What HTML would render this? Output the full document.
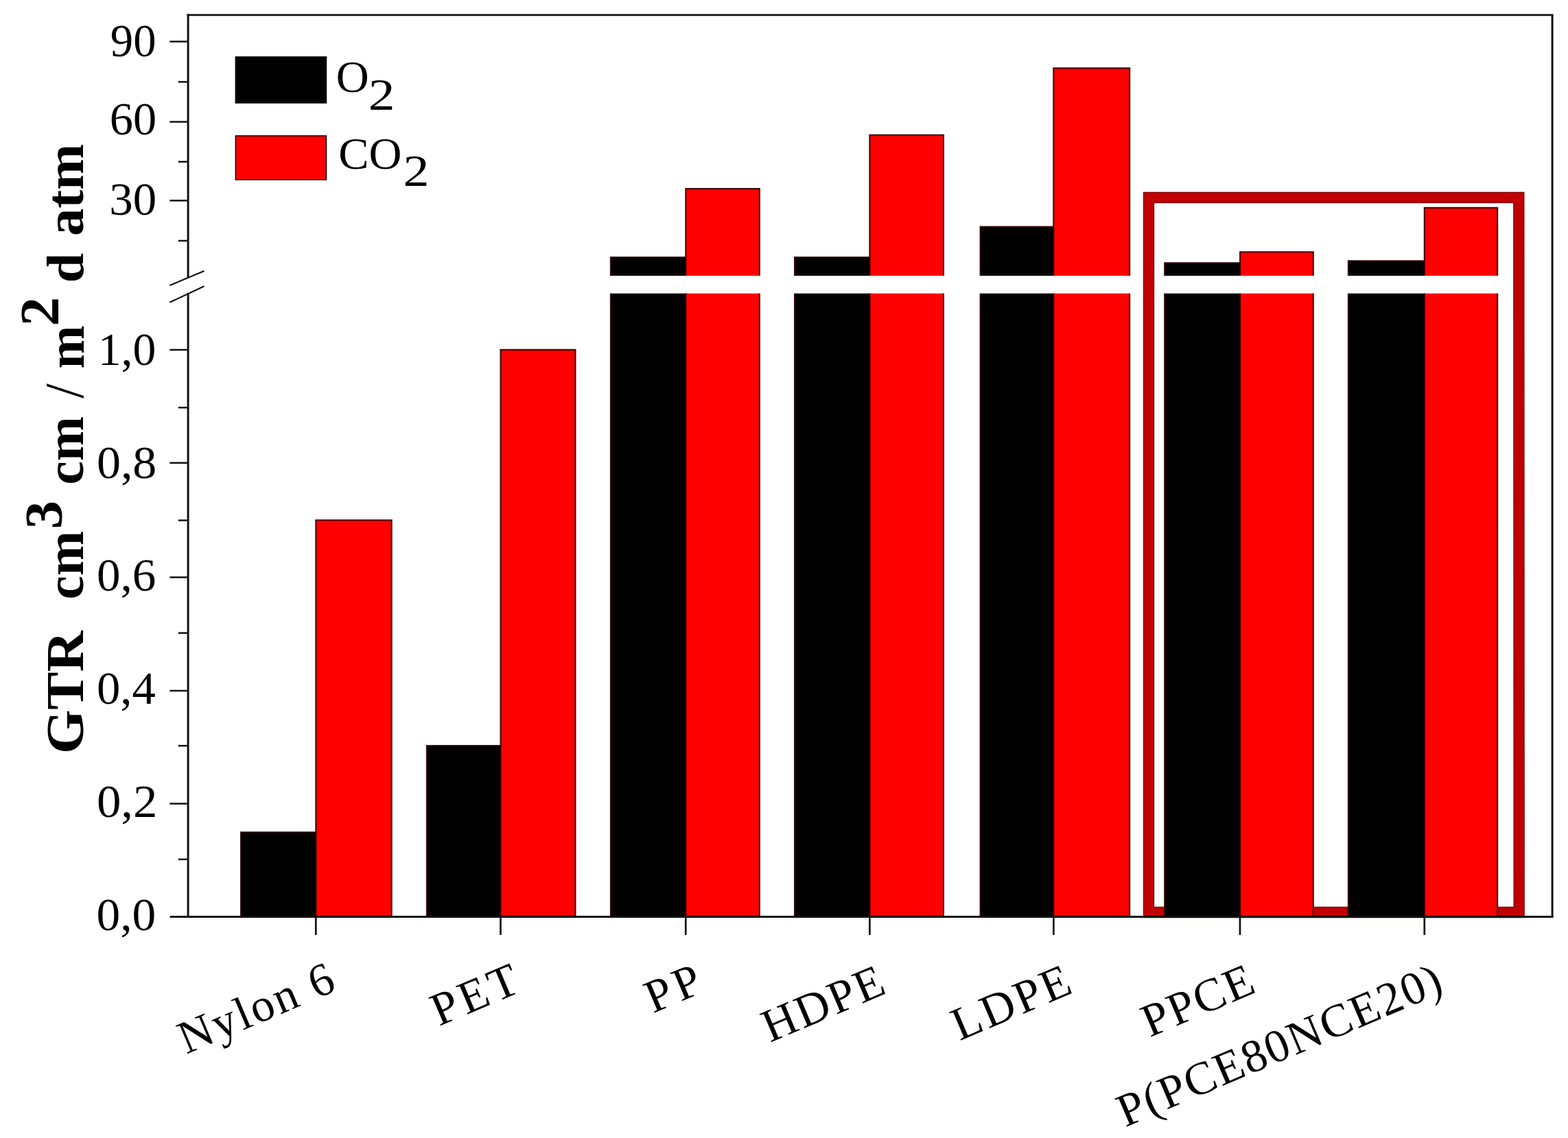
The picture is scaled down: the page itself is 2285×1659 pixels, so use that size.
<!DOCTYPE html>
<html lang="en"><head><meta charset="utf-8"><title>GTR bar chart</title>
<style>html,body{margin:0;padding:0;background:#fff;}body{width:2285px;height:1659px;overflow:hidden;}svg{display:block;filter:blur(0.5px);}text{font-family:"Liberation Serif",serif;fill:#000;}</style></head><body>
<svg width="2285" height="1659" viewBox="0 0 2285 1659">
<rect x="0" y="0" width="2285" height="1659" fill="#ffffff"/>
<path d="M1674.0 1330 L1674.0 288.0 L2213.3 288.0 L2213.7 1330 Z" fill="none" stroke="#7e0a0a" stroke-width="16.4" stroke-linejoin="miter"/><path d="M1674.0 1330 L1674.0 288.0 L2213.3 288.0 L2213.7 1330 Z" fill="none" stroke="#c00003" stroke-width="13.6" stroke-linejoin="miter"/>
<rect x="351.0" y="1213.3" width="109.3" height="123.2" fill="#000000"/><path d="M351.0 1336.5 L351.0 1213.3 L460.3 1213.3 L460.3 1336.5" fill="none" stroke="#2a0000" stroke-width="2.1" stroke-linecap="butt" stroke-linejoin="miter" opacity="0.9"/>
<rect x="460.3" y="758.3" width="110.4" height="578.2" fill="#fe0000"/><path d="M460.3 1336.5 L460.3 758.3 L570.7 758.3 L570.7 1336.5" fill="none" stroke="#2a0000" stroke-width="2.1" stroke-linecap="butt" stroke-linejoin="miter" opacity="0.9"/>
<rect x="621.9" y="1087.0" width="107.6" height="249.5" fill="#000000"/><path d="M621.9 1336.5 L621.9 1087.0 L729.5 1087.0 L729.5 1336.5" fill="none" stroke="#2a0000" stroke-width="2.1" stroke-linecap="butt" stroke-linejoin="miter" opacity="0.9"/>
<rect x="729.5" y="509.9" width="109.0" height="826.6" fill="#fe0000"/><path d="M729.5 1336.5 L729.5 509.9 L838.5 509.9 L838.5 1336.5" fill="none" stroke="#2a0000" stroke-width="2.1" stroke-linecap="butt" stroke-linejoin="miter" opacity="0.9"/>
<rect x="889.9" y="375.0" width="109.4" height="27.0" fill="#000000"/><path d="M889.9 402.0 L889.9 375.0 L999.3 375.0 L999.3 402.0" fill="none" stroke="#2a0000" stroke-width="2.1" stroke-linecap="butt" stroke-linejoin="miter" opacity="0.9"/><rect x="889.9" y="427.8" width="109.4" height="908.7" fill="#000000"/><path d="M889.9 1336.5 L889.9 427.8 M999.3 427.8 L999.3 1336.5" fill="none" stroke="#2a0000" stroke-width="2.1" stroke-linecap="butt" stroke-linejoin="miter" opacity="0.9"/>
<rect x="999.3" y="275.1" width="107.6" height="126.9" fill="#fe0000"/><path d="M999.3 402.0 L999.3 275.1 L1106.9 275.1 L1106.9 402.0" fill="none" stroke="#2a0000" stroke-width="2.1" stroke-linecap="butt" stroke-linejoin="miter" opacity="0.9"/><rect x="999.3" y="427.8" width="107.6" height="908.7" fill="#fe0000"/><path d="M999.3 1336.5 L999.3 427.8 M1106.9 427.8 L1106.9 1336.5" fill="none" stroke="#2a0000" stroke-width="2.1" stroke-linecap="butt" stroke-linejoin="miter" opacity="0.9"/>
<rect x="1158.0" y="375.0" width="109.4" height="27.0" fill="#000000"/><path d="M1158.0 402.0 L1158.0 375.0 L1267.4 375.0 L1267.4 402.0" fill="none" stroke="#2a0000" stroke-width="2.1" stroke-linecap="butt" stroke-linejoin="miter" opacity="0.9"/><rect x="1158.0" y="427.8" width="109.4" height="908.7" fill="#000000"/><path d="M1158.0 1336.5 L1158.0 427.8 M1267.4 427.8 L1267.4 1336.5" fill="none" stroke="#2a0000" stroke-width="2.1" stroke-linecap="butt" stroke-linejoin="miter" opacity="0.9"/>
<rect x="1267.4" y="196.8" width="107.6" height="205.2" fill="#fe0000"/><path d="M1267.4 402.0 L1267.4 196.8 L1375.0 196.8 L1375.0 402.0" fill="none" stroke="#2a0000" stroke-width="2.1" stroke-linecap="butt" stroke-linejoin="miter" opacity="0.9"/><rect x="1267.4" y="427.8" width="107.6" height="908.7" fill="#fe0000"/><path d="M1267.4 1336.5 L1267.4 427.8 M1375.0 427.8 L1375.0 1336.5" fill="none" stroke="#2a0000" stroke-width="2.1" stroke-linecap="butt" stroke-linejoin="miter" opacity="0.9"/>
<rect x="1428.6" y="330.5" width="106.7" height="71.5" fill="#000000"/><path d="M1428.6 402.0 L1428.6 330.5 L1535.3 330.5 L1535.3 402.0" fill="none" stroke="#2a0000" stroke-width="2.1" stroke-linecap="butt" stroke-linejoin="miter" opacity="0.9"/><rect x="1428.6" y="427.8" width="106.7" height="908.7" fill="#000000"/><path d="M1428.6 1336.5 L1428.6 427.8 M1535.3 427.8 L1535.3 1336.5" fill="none" stroke="#2a0000" stroke-width="2.1" stroke-linecap="butt" stroke-linejoin="miter" opacity="0.9"/>
<rect x="1535.3" y="99.4" width="110.9" height="302.6" fill="#fe0000"/><path d="M1535.3 402.0 L1535.3 99.4 L1646.2 99.4 L1646.2 402.0" fill="none" stroke="#2a0000" stroke-width="2.1" stroke-linecap="butt" stroke-linejoin="miter" opacity="0.9"/><rect x="1535.3" y="427.8" width="110.9" height="908.7" fill="#fe0000"/><path d="M1535.3 1336.5 L1535.3 427.8 M1646.2 427.8 L1646.2 1336.5" fill="none" stroke="#2a0000" stroke-width="2.1" stroke-linecap="butt" stroke-linejoin="miter" opacity="0.9"/>
<rect x="1697.2" y="383.2" width="109.9" height="18.8" fill="#000000"/><path d="M1697.2 402.0 L1697.2 383.2 L1807.1 383.2 L1807.1 402.0" fill="none" stroke="#2a0000" stroke-width="2.1" stroke-linecap="butt" stroke-linejoin="miter" opacity="0.9"/><rect x="1697.2" y="427.8" width="109.9" height="908.7" fill="#000000"/><path d="M1697.2 1336.5 L1697.2 427.8 M1807.1 427.8 L1807.1 1336.5" fill="none" stroke="#2a0000" stroke-width="2.1" stroke-linecap="butt" stroke-linejoin="miter" opacity="0.9"/>
<rect x="1807.1" y="367.3" width="106.7" height="34.7" fill="#fe0000"/><path d="M1807.1 402.0 L1807.1 367.3 L1913.8 367.3 L1913.8 402.0" fill="none" stroke="#2a0000" stroke-width="2.1" stroke-linecap="butt" stroke-linejoin="miter" opacity="0.9"/><rect x="1807.1" y="427.8" width="106.7" height="908.7" fill="#fe0000"/><path d="M1807.1 1336.5 L1807.1 427.8 M1913.8 427.8 L1913.8 1336.5" fill="none" stroke="#2a0000" stroke-width="2.1" stroke-linecap="butt" stroke-linejoin="miter" opacity="0.9"/>
<rect x="1964.9" y="380.3" width="110.9" height="21.7" fill="#000000"/><path d="M1964.9 402.0 L1964.9 380.3 L2075.8 380.3 L2075.8 402.0" fill="none" stroke="#2a0000" stroke-width="2.1" stroke-linecap="butt" stroke-linejoin="miter" opacity="0.9"/><rect x="1964.9" y="427.8" width="110.9" height="908.7" fill="#000000"/><path d="M1964.9 1336.5 L1964.9 427.8 M2075.8 427.8 L2075.8 1336.5" fill="none" stroke="#2a0000" stroke-width="2.1" stroke-linecap="butt" stroke-linejoin="miter" opacity="0.9"/>
<rect x="2075.8" y="302.9" width="106.4" height="99.1" fill="#fe0000"/><path d="M2075.8 402.0 L2075.8 302.9 L2182.2 302.9 L2182.2 402.0" fill="none" stroke="#2a0000" stroke-width="2.1" stroke-linecap="butt" stroke-linejoin="miter" opacity="0.9"/><rect x="2075.8" y="427.8" width="106.4" height="908.7" fill="#fe0000"/><path d="M2075.8 1336.5 L2075.8 427.8 M2182.2 427.8 L2182.2 1336.5" fill="none" stroke="#2a0000" stroke-width="2.1" stroke-linecap="butt" stroke-linejoin="miter" opacity="0.9"/>
<g stroke="#111" stroke-width="3.0" fill="none" stroke-linecap="butt"><path d="M274.1 404.5 L274.1 20.6"/><path d="M274.1 1336.5 L274.1 427.0"/><path d="M272.6 21.9 L2263.6 21.9" stroke-width="2.6"/><path d="M2262.1 21.9 L2262.1 1336.5"/><path d="M247.6 1336.5 L2263.6 1336.5" stroke-width="2.8"/><path d="M247.4 60.6 L274.1 60.6" stroke-width="2.5"/><path d="M247.4 177.6 L274.1 177.6" stroke-width="2.5"/><path d="M247.4 292.4 L274.1 292.4" stroke-width="2.5"/><path d="M247.4 510.0 L274.1 510.0" stroke-width="2.5"/><path d="M247.4 674.8 L274.1 674.8" stroke-width="2.5"/><path d="M247.4 841.6 L274.1 841.6" stroke-width="2.5"/><path d="M247.4 1007.0 L274.1 1007.0" stroke-width="2.5"/><path d="M247.4 1171.6 L274.1 1171.6" stroke-width="2.5"/><path d="M259.8 119.4 L274.1 119.4" stroke-width="2.5"/><path d="M259.8 235.8 L274.1 235.8" stroke-width="2.5"/><path d="M259.8 351.0 L274.1 351.0" stroke-width="2.5"/><path d="M259.8 594.2 L274.1 594.2" stroke-width="2.5"/><path d="M259.8 758.6 L274.1 758.6" stroke-width="2.5"/><path d="M259.8 922.8 L274.1 922.8" stroke-width="2.5"/><path d="M259.8 1087.2 L274.1 1087.2" stroke-width="2.5"/><path d="M259.8 1252.8 L274.1 1252.8" stroke-width="2.5"/><path d="M460.3 1336.5 L460.3 1363.0" stroke-width="2.7"/><path d="M729.5 1336.5 L729.5 1363.0" stroke-width="2.7"/><path d="M999.3 1336.5 L999.3 1363.0" stroke-width="2.7"/><path d="M1267.4 1336.5 L1267.4 1363.0" stroke-width="2.7"/><path d="M1535.4 1336.5 L1535.4 1363.0" stroke-width="2.7"/><path d="M1807.0 1336.5 L1807.0 1363.0" stroke-width="2.7"/><path d="M2075.8 1336.5 L2075.8 1363.0" stroke-width="2.7"/><path d="M247.4 416.1 L297.5 395.0" stroke-width="2.2"/><path d="M247.4 440.8 L297.5 417.2" stroke-width="2.2"/></g>
<rect x="342.6" y="82.2" width="133.6" height="68.6" fill="#000"/>
<rect x="343.4" y="198.0" width="132.0" height="64.0" fill="#fe0000" stroke="#200000" stroke-width="1.6"/>
<text transform="translate(160.8 82.4) scale(0.981 1.004)" font-size="68">90</text>
<text transform="translate(159.7 195.9) scale(1.006 0.980)" font-size="68">60</text>
<text transform="translate(159.2 313.4) scale(1.015 0.980)" font-size="68">30</text>
<text transform="translate(142.7 532.0) scale(0.995 1.000)" font-size="68">1,0</text>
<text transform="translate(140.9 696.8) scale(1.029 1.000)" font-size="68">0,8</text>
<text transform="translate(140.9 861.2) scale(1.016 0.993)" font-size="68">0,6</text>
<text transform="translate(140.9 1026.0) scale(1.010 1.000)" font-size="68">0,4</text>
<text transform="translate(140.9 1190.9) scale(1.042 1.000)" font-size="68">0,2</text>
<text transform="translate(140.5 1356.0) scale(1.021 1.002)" font-size="68">0,0</text>
<text transform="translate(489.8 133.8) scale(0.977 0.965)" font-size="68">O</text>
<text transform="translate(536.7 160.4) scale(1.139 0.976)" font-size="68">2</text>
<text transform="translate(493.3 245.8) scale(0.976 0.971)" font-size="68">CO</text>
<text transform="translate(587.5 271.4) scale(1.117 0.969)" font-size="68">2</text>
<text transform="translate(121.0 1099.1) rotate(-90) scale(1.035 0.991)" font-size="80" font-weight="bold">GTR</text>
<text transform="translate(121.4 874.0) rotate(-90) scale(0.980 0.969)" font-size="80" font-weight="bold">cm</text>
<text transform="translate(89.8 771.2) rotate(-90) scale(1.032 0.983)" font-size="80" font-weight="bold">3</text>
<text transform="translate(121.4 706.7) rotate(-90) scale(0.975 0.969)" font-size="80" font-weight="bold">cm</text>
<text transform="translate(121.0 580.8) rotate(-90) scale(0.968 1.000)" font-size="80">/</text>
<text transform="translate(121.9 537.6) rotate(-90) scale(0.945 0.963)" font-size="80" font-weight="bold">m</text>
<text transform="translate(85.4 475.6) rotate(-90) scale(1.064 1.009)" font-size="80" font-weight="bold">2</text>
<text transform="translate(121.0 412.2) rotate(-90) scale(0.975 0.958)" font-size="80" font-weight="bold">d</text>
<text transform="translate(121.4 344.1) rotate(-90) scale(1.009 0.970)" font-size="80" font-weight="bold">atm</text>
<text transform="translate(271.5 1537.0) rotate(-23.00)" font-size="68.0" letter-spacing="3.12">Nylon 6</text>
<text transform="translate(639.8 1496.3) rotate(-23.00)" font-size="68.0" letter-spacing="5.29">PET</text>
<text transform="translate(951.4 1477.5) rotate(-23.00)" font-size="68.0" letter-spacing="6.40">PP</text>
<text transform="translate(1122.2 1520.1) rotate(-23.00)" font-size="68.0" letter-spacing="2.97">HDPE</text>
<text transform="translate(1398.6 1517.4) rotate(-23.00)" font-size="68.0" letter-spacing="3.75">LDPE</text>
<text transform="translate(1675.5 1512.4) rotate(-23.00)" font-size="68.0" letter-spacing="2.69">PPCE</text>
<text transform="translate(1639.8 1643.4) rotate(-23.00)" font-size="68.0" letter-spacing="2.23">P(PCE80NCE20)</text>
</svg></body></html>
